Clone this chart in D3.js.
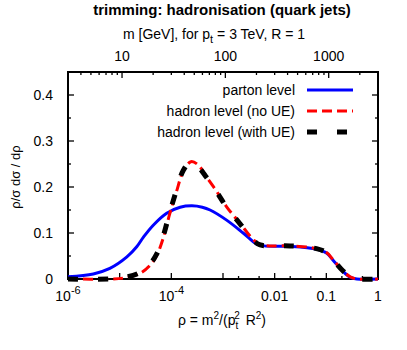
<!DOCTYPE html>
<html>
<head>
<meta charset="utf-8">
<script src="https://cdn.jsdelivr.net/npm/d3@7"></script>
<style>
  body { margin: 0; background: #fff; }
  text { font-family: "Liberation Sans", Arial, sans-serif; fill: #000; }
</style>
</head>
<body>
<div id="canvas"></div>
<script>
// log10(rho) and rho/sigma dsigma/drho
const partonLogRho = [-6.0, -5.51, -5.19, -4.86, -4.67, -4.54, -4.35, -4.09, -3.83, -3.6, -3.4, -3.25, -2.93, -2.61, -2.35, -2.2, -1.7, -1.19, -0.99, -0.87, -0.68, -0.54, -0.41, 0];
const partonValues = [0.005, 0.011, 0.023, 0.048, 0.07, 0.091, 0.117, 0.143, 0.156, 0.159, 0.156, 0.15, 0.128, 0.1, 0.076, 0.072, 0.071, 0.065, 0.056, 0.041, 0.017, 0.004, 0, 0];

const noUELogRho = [-6.0, -5.2, -4.93, -4.61, -4.41, -4.28, -4.16, -4.03, -3.9, -3.77, -3.62, -3.48, -3.32, -3.12, -2.93, -2.67, -2.41, -2.28, -2.1, -1.7, -1.19, -0.99, -0.87, -0.68, -0.54, -0.41, 0];
const noUEValues = [0, 0, 0.002, 0.012, 0.03, 0.052, 0.088, 0.142, 0.19, 0.234, 0.255, 0.248, 0.222, 0.19, 0.157, 0.121, 0.085, 0.074, 0.072, 0.072, 0.066, 0.057, 0.042, 0.018, 0.005, 0, 0];

const withUELogRho = [-6.0, -5.2, -4.93, -4.61, -4.41, -4.28, -4.16, -4.03, -3.9, -3.77, -3.64, -3.5, -3.32, -3.12, -2.93, -2.67, -2.41, -2.28, -2.1, -1.7, -1.19, -0.99, -0.87, -0.68, -0.54, -0.41, 0];
const withUEValues = [0, 0, 0.003, 0.014, 0.033, 0.055, 0.092, 0.145, 0.193, 0.236, 0.253, 0.246, 0.221, 0.189, 0.156, 0.12, 0.084, 0.074, 0.072, 0.072, 0.066, 0.057, 0.042, 0.018, 0.005, 0, 0];

const yTicks = [0, 0.1, 0.2, 0.3, 0.4];
const xLabelTicks = [1e-6, 1e-4, 0.01, 0.1, 1];
const massTicks = [10, 100, 1000];
const pt = 3000; // GeV
const R = 1;

const width = 407;
const height = 350;
const margin = { top: 72, left: 68, bottom: 71, right: 29 };
const iwidth = width - margin.left - margin.right;
const iheight = height - margin.top - margin.bottom;

const svg = d3.select("#canvas").append("svg")
  .attr("width", width)
  .attr("height", height);

const x = d3.scaleLog().domain([1e-6, 1]).range([margin.left, margin.left + iwidth]);
const y = d3.scaleLinear().domain([0, 0.45]).range([margin.top + iheight, margin.top]);

const x0 = margin.left, x1 = margin.left + iwidth;
const y0 = margin.top + iheight, y1 = margin.top;

// ticks (inward, mirrored on all sides)
const ticks = svg.append("g").attr("stroke", "#000").attr("stroke-width", 1.3);

const bottomMajor = [1e-6, 1e-5, 1e-4, 1e-3, 0.01, 0.1, 1];
const bottomMinor = [0.002, 0.005, 0.02, 0.05, 0.2, 0.5];
bottomMajor.forEach((v) => {
  ticks.append("line").attr("x1", x(v)).attr("x2", x(v)).attr("y1", y0).attr("y2", y0 - 6);
});
bottomMinor.forEach((v) => {
  ticks.append("line").attr("x1", x(v)).attr("x2", x(v)).attr("y1", y0).attr("y2", y0 - 3);
});

// top axis in mass m = sqrt(rho) * pt * R
const rhoOfMass = (m) => (m / (pt * R)) ** 2;
const massMinor = [4, 5, 6, 7, 8, 9, 20, 30, 40, 50, 60, 70, 80, 90, 200, 300, 400, 500, 600, 700, 800, 900, 2000];
massTicks.forEach((m) => {
  ticks.append("line").attr("x1", x(rhoOfMass(m))).attr("x2", x(rhoOfMass(m))).attr("y1", y1).attr("y2", y1 + 6);
});
massMinor.forEach((m) => {
  ticks.append("line").attr("x1", x(rhoOfMass(m))).attr("x2", x(rhoOfMass(m))).attr("y1", y1).attr("y2", y1 + 3);
});

d3.range(0, 0.451, 0.05).forEach((v, i) => {
  const len = i % 2 === 0 ? 6 : 3;
  ticks.append("line").attr("x1", x0).attr("x2", x0 + len).attr("y1", y(v)).attr("y2", y(v));
  ticks.append("line").attr("x1", x1).attr("x2", x1 - len).attr("y1", y(v)).attr("y2", y(v));
});

// frame
svg.append("rect")
  .attr("x", x0).attr("y", y1)
  .attr("width", iwidth).attr("height", iheight)
  .attr("fill", "none").attr("stroke", "#000").attr("stroke-width", 2);

// y tick labels
svg.selectAll(".ylab").data(yTicks).enter().append("text")
  .attr("x", 53).attr("y", (d) => y(d) + 5)
  .attr("text-anchor", "end").style("font-size", "14px")
  .text((d) => d === 0 ? "0" : d3.format(".1f")(d));

// bottom tick labels
const xl = svg.selectAll(".xlab").data(xLabelTicks).enter().append("text")
  .attr("x", (d) => x(d)).attr("y", 301)
  .attr("text-anchor", "middle").style("font-size", "14px");
xl.each(function (d) {
  const t = d3.select(this);
  if (d < 0.01) {
    t.append("tspan").text("10");
    t.append("tspan").attr("dy", -7).style("font-size", "11px").text("-" + Math.round(-Math.log10(d)));
  } else {
    t.text(String(d));
  }
});

// top tick labels
svg.selectAll(".mlab").data(massTicks).enter().append("text")
  .attr("x", (d) => x(rhoOfMass(d))).attr("y", 61)
  .attr("text-anchor", "middle").style("font-size", "14px")
  .text((d) => d);

// titles
svg.append("text")
  .attr("x", 222).attr("y", 15)
  .attr("text-anchor", "middle").style("font-size", "15px").style("font-weight", "bold")
  .text("trimming: hadronisation (quark jets)");

const sub = svg.append("text")
  .attr("x", 214).attr("y", 39)
  .attr("text-anchor", "middle").style("font-size", "14px");
sub.append("tspan").text("m [GeV], for p");
sub.append("tspan").attr("dy", 4).style("font-size", "11px").text("t");
sub.append("tspan").attr("dy", -4).text(" = 3 TeV, R = 1");

// x axis title: rho = m^2/(p_t^2 R^2), the t sits under the 2
const xlab = svg.append("text")
  .attr("x", 222).attr("y", 325)
  .attr("text-anchor", "middle").style("font-size", "14px");
xlab.append("tspan").text("ρ = m");
xlab.append("tspan").attr("dy", -6).style("font-size", "10px").text("2");
xlab.append("tspan").attr("dy", 6).text("/(p");
xlab.append("tspan").attr("dy", 4).style("font-size", "10px").text("t");
xlab.append("tspan").attr("dx", -4).attr("dy", -10).style("font-size", "10px").text("2");
xlab.append("tspan").attr("dx", 2).attr("dy", 6).text(" R");
xlab.append("tspan").attr("dy", -6).style("font-size", "10px").text("2");
xlab.append("tspan").attr("dy", 6).text(")");

svg.append("text")
  .attr("transform", "translate(20,177) rotate(-90)")
  .attr("text-anchor", "middle").style("font-size", "13px")
  .text("ρ/σ dσ / dρ");

// curves
const line = d3.line()
  .x((d) => x(Math.pow(10, d[0])))
  .y((d) => y(d[1]))
  .curve(d3.curveCatmullRom.alpha(0.5));

const series = [
  { name: "parton level", lr: partonLogRho, v: partonValues, color: "#0000ff", w: 3, dash: null },
  { name: "hadron level (no UE)", lr: noUELogRho, v: noUEValues, color: "#ff0000", w: 3, dash: "10,5" },
  { name: "hadron level (with UE)", lr: withUELogRho, v: withUEValues, color: "#000000", w: 5, dash: "10,20" },
];

series.forEach((s) => {
  svg.append("path")
    .datum(d3.zip(s.lr, s.v))
    .attr("fill", "none")
    .attr("stroke", s.color)
    .attr("stroke-width", s.w)
    .attr("stroke-dasharray", s.dash)
    .attr("d", line);
});

// legend
const legend = svg.append("g");
series.forEach((s, i) => {
  const ly = 90 + i * 21;
  legend.append("text")
    .attr("x", 295).attr("y", ly + 5)
    .attr("text-anchor", "end").style("font-size", "14px")
    .text(s.name);
  legend.append("line")
    .attr("x1", 307).attr("x2", 353).attr("y1", ly).attr("y2", ly)
    .attr("stroke", s.color).attr("stroke-width", s.w)
    .attr("stroke-dasharray", s.dash);
});
</script>
</body>
</html>
